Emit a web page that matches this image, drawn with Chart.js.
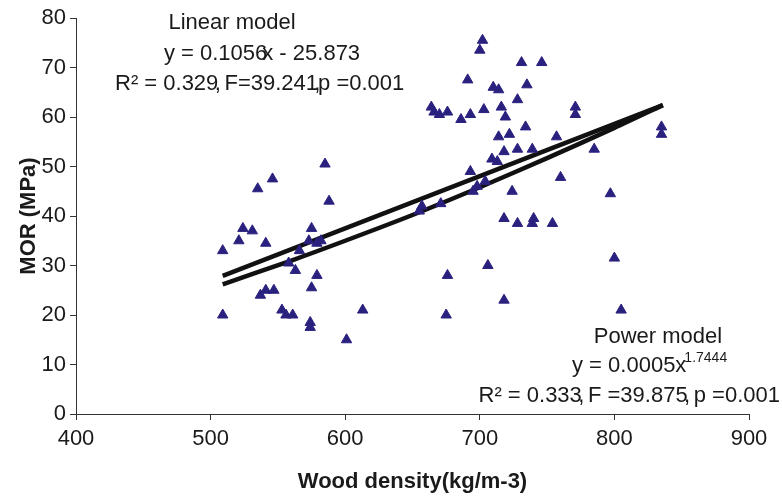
<!DOCTYPE html>
<html>
<head>
<meta charset="utf-8">
<script src="https://cdn.jsdelivr.net/npm/chart.js@4.4.1/dist/chart.umd.min.js"></script>
<style>
  html, body { margin: 0; padding: 0; background: #fff; }
  #wrap { width: 782px; height: 499px; position: relative; }
</style>
</head>
<body>
<div id="wrap"><canvas id="morChart"></canvas></div>
<script>
// wood density (kg/m-3) and MOR (MPa) of each sample
const density = [509, 509, 521, 524, 531, 535, 541, 546, 537, 541, 547, 553, 556, 561, 558, 563, 566, 573, 575, 575,
    574, 574, 579, 579, 582, 585, 588, 601, 613,
    655, 657, 664, 666, 670, 671, 676, 676, 675, 686, 691, 693, 693, 695, 698, 700, 702, 703, 704, 706,
    709, 710, 714, 713, 714, 716, 719, 718, 718, 718, 722, 724, 728, 728, 728, 731, 735, 734, 739, 739,
    740, 746, 754, 757, 760, 771, 771, 785, 797, 800, 805, 835, 835];
const mor = [33, 20, 35, 37.5, 37, 45.5, 34.5, 47.5, 24, 25, 25, 21, 20, 20, 30.5, 29, 33, 35, 37.5, 25.5,
    18.5, 17.5, 28, 34.5, 35, 50.5, 43, 15, 21,
    41, 42, 62, 61, 60.5, 42.5, 61, 28, 20, 59.5, 67.5, 60.5, 49, 45, 46, 73.5, 75.5, 61.5, 47, 30,
    51.5, 66, 65.5, 51, 56, 62, 60, 53, 39.5, 23, 56.5, 45, 63.5, 53.5, 38.5, 71, 66.5, 58, 53.5, 38.5,
    39.5, 71, 38.5, 56, 47.8, 62, 60.5, 53.5, 44.5, 31.5, 21, 58, 56.5];

// fitted lines as drawn in the figure
const linearX = [509, 836];
const linearY = [27.9, 62.4];
const powerX = [509, 560, 600, 650, 700, 750, 800, 836];
const powerY = [26.2, 31.0, 35.0, 40.2, 45.8, 51.7, 57.8, 62.4];

const xTicks = [400, 500, 600, 700, 800, 900];
const yTicks = [0, 10, 20, 30, 40, 50, 60, 70, 80];

const FONT = '"Liberation Sans", Arial, sans-serif';
const TEXT = '#1a1a1a';

const toPts = (xs, ys) => xs.map((x, i) => ({ x: x, y: ys[i] }));

// draw a run of text pieces, each with an extra shift before it (the
// original has the commas and the "x" squeezed onto the previous glyph)
function partsWidth(ctx, parts) {
    return parts.reduce((w, p) => w + (p[1] || 0) + ctx.measureText(p[0]).width, 0);
}
function drawParts(ctx, parts, x, y) {
    ctx.textAlign = 'left';
    parts.forEach(p => {
        x += p[1] || 0;
        ctx.fillText(p[0], x, y);
        x += ctx.measureText(p[0]).width;
    });
}

// model labels
const notes = {
    id: 'notes',
    afterDraw(chart) {
        const ctx = chart.ctx;
        ctx.save();
        ctx.fillStyle = TEXT;
        ctx.font = '22px ' + FONT;
        ctx.textBaseline = 'alphabetic';
        const cw = ctx.measureText(',').width;

        ctx.textAlign = 'center';
        ctx.fillText('Linear model', 232, 29);
        const eq1 = [['y = 0.1056'], ['x - 25.873', -5]];
        drawParts(ctx, eq1, 262 - partsWidth(ctx, eq1) / 2, 60);
        const r1 = [['R\u00b2 = 0.329'], [',', -cw * 0.6], [' F=39.241', -cw * 0.4], [',', -cw * 0.6], ['p =0.001', -cw * 0.4]];
        drawParts(ctx, r1, 115, 90);

        ctx.textAlign = 'center';
        ctx.fillText('Power model', 658, 343);
        const base = 'y = 0.0005x';
        drawParts(ctx, [[base]], 572, 372);
        const w = ctx.measureText(base).width;
        ctx.font = '14px ' + FONT;
        ctx.fillText('1.7444', 572 + w - 2, 362);
        ctx.font = '22px ' + FONT;
        const r2 = [['R\u00b2 = 0.333'], [',', -cw * 0.6], [' F =39.875', -cw * 0.4], [',', -cw * 0.6], [' p =0.001', -cw * 0.4]];
        drawParts(ctx, r2, 780 - partsWidth(ctx, r2), 402);
        ctx.restore();
    }
};

new Chart(document.getElementById('morChart'), {
    type: 'scatter',
    data: {
        datasets: [
            {
                label: 'MOR',
                data: toPts(density, mor),
                pointStyle: 'triangle',
                pointRadius: 6,
                backgroundColor: '#2a217f',
                borderColor: '#2a217f',
                borderWidth: 1
            },
            {
                label: 'Linear model',
                data: toPts(linearX, linearY),
                showLine: true,
                pointRadius: 0,
                borderColor: '#111',
                borderWidth: 4.5
            },
            {
                label: 'Power model',
                data: toPts(powerX, powerY),
                showLine: true,
                pointRadius: 0,
                borderColor: '#111',
                borderWidth: 4.5,
                tension: 0.3
            }
        ]
    },
    options: {
        responsive: true,
        maintainAspectRatio: false,
        animation: false,
        layout: { padding: { top: 18, right: 33, bottom: 0, left: 12 } },
        plugins: {
            legend: { display: false },
            tooltip: { enabled: false }
        },
        scales: {
            x: {
                type: 'linear',
                min: 400,
                max: 900,
                afterBuildTicks: s => { s.ticks = xTicks.map(v => ({ value: v })); },
                afterFit: s => { s.height = 85; },
                border: { color: '#333', width: 1 },
                grid: { drawOnChartArea: false, drawTicks: true, tickLength: 6, color: '#333' },
                ticks: { color: TEXT, font: { family: FONT, size: 22 }, padding: 6 },
                title: {
                    display: true,
                    text: 'Wood density(kg/m-3)',
                    color: TEXT,
                    font: { family: FONT, size: 22, weight: 'bold' },
                    padding: { top: 4 }
                }
            },
            y: {
                type: 'linear',
                min: 0,
                max: 80,
                afterBuildTicks: s => { s.ticks = yTicks.map(v => ({ value: v })); },
                afterFit: s => { s.width = 64; },
                border: { color: '#333', width: 1 },
                grid: { drawOnChartArea: false, drawTicks: true, tickLength: 6, color: '#333' },
                ticks: { color: TEXT, font: { family: FONT, size: 22 }, padding: 4 },
                title: {
                    display: true,
                    text: 'MOR (MPa)',
                    color: TEXT,
                    font: { family: FONT, size: 22, weight: 'bold' },
                    padding: { bottom: 0 }
                }
            }
        }
    },
    plugins: [notes]
});
</script>
</body>
</html>
